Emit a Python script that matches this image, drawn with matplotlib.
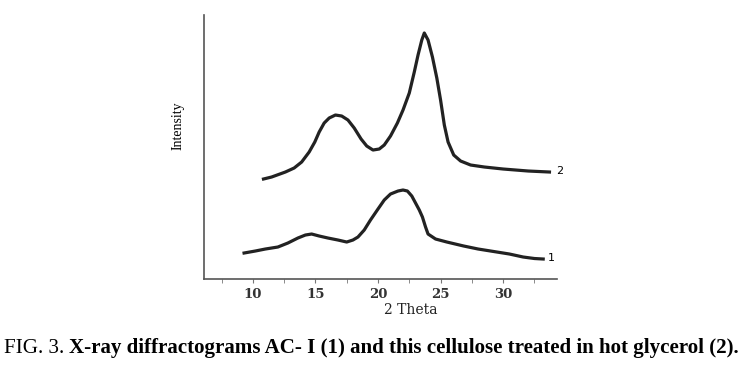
import matplotlib
matplotlib.use('Agg')
import matplotlib.pyplot as plt
from matplotlib.ticker import MultipleLocator

# curve 1: AC-I
theta_1 = [9.3, 10.2, 11.0, 12.0, 12.8, 13.6, 14.2, 14.7, 15.3, 16.0, 16.8,
           17.5, 18.0, 18.4, 18.9, 19.4, 20.0, 20.5, 21.0, 21.6, 22.0, 22.35,
           22.7, 23.0, 23.3, 23.55, 23.8, 24.0, 24.6, 25.5, 26.85, 28.0,
           29.5, 30.5, 31.6, 32.5, 33.2]
intensity_1 = [26, 28, 30, 32, 36, 41, 44, 45, 43, 41, 39,
               37, 39, 42, 49, 59, 70, 79, 85, 88, 89, 88,
               83, 76, 69, 62, 52, 45, 40, 37, 33, 30,
               27, 25, 22, 20.5, 20]

# curve 2: treated in hot glycerol
theta_2 = [10.85, 11.5, 12.6, 13.3, 13.9, 14.5, 14.95, 15.3, 15.7, 16.1, 16.6,
           17.1, 17.6, 18.1, 18.65, 19.1, 19.6, 20.1, 20.5, 21.0, 21.55, 22.0,
           22.5, 22.9, 23.2, 23.5, 23.7, 24.0, 24.35, 24.7, 25.0, 25.3, 25.6,
           26.05, 26.6, 27.4, 28.5, 30.0, 32.0, 33.7]
intensity_2 = [100, 102, 107, 111, 117, 127, 137, 147, 156, 161, 164,
               163, 159, 151, 140, 133, 129, 130, 134, 143, 156, 169,
               186, 207, 224, 239, 246, 239, 222, 201, 179, 154, 137,
               124, 118, 114, 112, 110, 108, 107]

x_ticks = [10, 15, 20, 25, 30]
curve_labels = ['1', '2']

plt.rcParams['font.family'] = 'Liberation Serif'

fig = plt.figure(figsize=(7.46, 3.68), dpi=100)
ax = fig.add_axes([0.2735, 0.2418, 0.4731, 0.7174])

ax.plot(theta_1, intensity_1, color='#222222', linewidth=2.3, solid_joinstyle='round')
ax.plot(theta_2, intensity_2, color='#222222', linewidth=2.3, solid_joinstyle='round')

ax.text(33.55, intensity_1[-1] + 1, curve_labels[0], fontsize=8, va='center', ha='left',
        family='DejaVu Sans')
ax.text(34.2, intensity_2[-1] + 1, curve_labels[1], fontsize=8, va='center', ha='left',
        family='DejaVu Sans')

ax.set_xlim(6.1, 34.3)
ax.set_ylim(0, 264)

ax.spines['top'].set_visible(False)
ax.spines['right'].set_visible(False)
ax.spines['left'].set_color('#555555')
ax.spines['bottom'].set_color('#555555')
ax.spines['left'].set_linewidth(1.2)
ax.spines['bottom'].set_linewidth(1.2)

ax.set_xticks(x_ticks)
ax.xaxis.set_minor_locator(MultipleLocator(2.5))
ax.tick_params(axis='x', which='both', direction='out', length=3, color='#777777')
ax.tick_params(axis='x', which='major', labelsize=9.5, pad=3.5)
for lbl in ax.get_xticklabels():
    lbl.set_family('DejaVu Serif')
    lbl.set_fontweight('bold')
    lbl.set_color('#333333')
ax.set_yticks([])

ax.set_xlabel('2 Theta', fontsize=10, family='DejaVu Serif', color='#222222')
ax.xaxis.set_label_coords(0.586, -0.09)
ax.set_ylabel('Intensity', fontsize=10)
ax.yaxis.set_label_coords(-0.055, 0.58)

fig.text(0.006, 0.054, 'FIG. 3. ', fontsize=15.1, ha='left', va='center')
fig.text(0.093, 0.054, 'X-ray diffractograms AC- I (1) and this cellulose treated in hot glycerol (2).',
         fontsize=15.1, fontweight='bold', ha='left', va='center')

plt.savefig('out.png', dpi=100)
